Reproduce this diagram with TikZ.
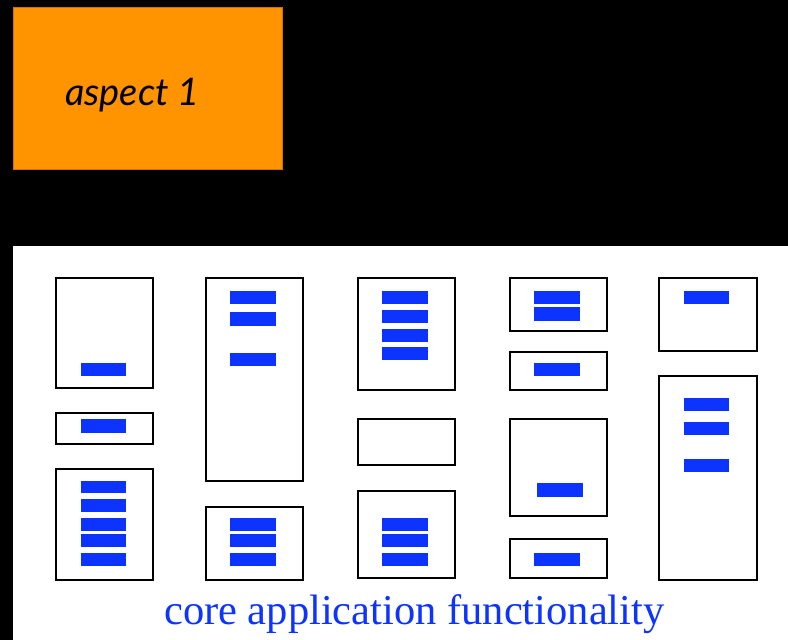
\documentclass[tikz,border=0pt]{standalone}
\usepackage{fontspec}
\usetikzlibrary{fit}
\newfontfamily\aspectfont{Lato}
\newfontfamily\corefont{Liberation Serif}
\definecolor{aspectorange}{HTML}{FF9300}
\definecolor{barblue}{HTML}{0D33FF}
\tikzset{
  box/.style={draw=black, line width=2pt, fill=white, inner sep=0pt, outer sep=0pt},
  bar/.style={fill=barblue, draw=none, inner sep=0pt, outer sep=0pt},
}
\begin{document}
\begin{tikzpicture}[x=1pt,y=-1pt]
\useasboundingbox (0,0) rectangle (788,640);
\fill[black] (0,0) rectangle (788,640);
\node[fill=aspectorange, draw=aspectorange!80!black, line width=0.5pt, inner sep=0pt, fit={(13,7) (282,169)}] (aspect) {};
\node[anchor=base west, inner sep=0pt, font=\aspectfont\itshape\fontsize{38}{40}\selectfont] (aspectlabel) at (65,105) {aspect 1};
\node[fill=white, draw=none, inner sep=0pt, fit={(13,246) (788,640)}] (core) {};
% column 1
\node[box, fit={(56,278) (153,388)}] (A) {};
\node[bar, fit={(81,363) (126,376)}] (A1) {};
\node[box, fit={(56,413) (153,444)}] (B) {};
\node[bar, fit={(81,419) (126,433)}] (B1) {};
\node[box, fit={(56,469) (153,580)}] (C) {};
\node[bar, fit={(81,481) (126,493)}] (C1) {};
\node[bar, fit={(81,499) (126,512)}] (C2) {};
\node[bar, fit={(81,518) (126,531)}] (C3) {};
\node[bar, fit={(81,534) (126,547)}] (C4) {};
\node[bar, fit={(81,553) (126,566)}] (C5) {};
% column 2
\node[box, fit={(206,278) (303,481)}] (D) {};
\node[bar, fit={(230,291) (276,304)}] (D1) {};
\node[bar, fit={(230,312) (276,326)}] (D2) {};
\node[bar, fit={(230,353) (276,366)}] (D3) {};
\node[box, fit={(206,507) (303,580)}] (E) {};
\node[bar, fit={(230,518) (276,531)}] (E1) {};
\node[bar, fit={(230,534) (276,547)}] (E2) {};
\node[bar, fit={(230,553) (276,566)}] (E3) {};
% column 3
\node[box, fit={(358,278) (455,390)}] (F) {};
\node[bar, fit={(382,291) (428,304)}] (F1) {};
\node[bar, fit={(382,310) (428,323)}] (F2) {};
\node[bar, fit={(382,329) (428,342)}] (F3) {};
\node[bar, fit={(382,347) (428,360)}] (F4) {};
\node[box, fit={(358,419) (455,465)}] (G) {};
\node[box, fit={(358,491) (455,578)}] (H) {};
\node[bar, fit={(382,518) (428,531)}] (H1) {};
\node[bar, fit={(382,534) (428,547)}] (H2) {};
\node[bar, fit={(382,553) (428,566)}] (H3) {};
% column 4
\node[box, fit={(510,278) (607,331)}] (I) {};
\node[bar, fit={(534,291) (580,304)}] (I1) {};
\node[bar, fit={(534,307) (580,321)}] (I2) {};
\node[box, fit={(510,352) (607,390)}] (J) {};
\node[bar, fit={(534,363) (580,376)}] (J1) {};
\node[box, fit={(510,419) (607,516)}] (K) {};
\node[bar, fit={(537,483) (583,497)}] (K1) {};
\node[box, fit={(510,539) (607,578)}] (L) {};
\node[bar, fit={(534,553) (580,566)}] (L1) {};
% column 5
\node[box, fit={(659,278) (757,351)}] (M) {};
\node[bar, fit={(684,291) (729,304)}] (M1) {};
\node[box, fit={(659,376) (757,580)}] (N) {};
\node[bar, fit={(684,398) (729,411)}] (N1) {};
\node[bar, fit={(684,422) (729,435)}] (N2) {};
\node[bar, fit={(684,459) (729,472)}] (N3) {};
% label
\node[anchor=base west, inner sep=0pt, text=barblue, font=\corefont\fontsize{42.5}{45}\selectfont] (corelabel) at (164,624) {core application functionality};
\end{tikzpicture}
\end{document}
